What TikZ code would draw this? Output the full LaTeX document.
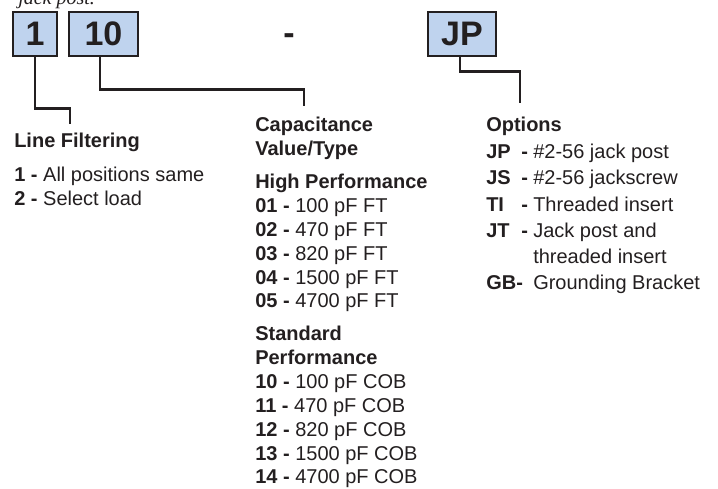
\documentclass[tikz,border=0pt]{standalone}
\usepackage{fontspec}
\setmainfont{Liberation Sans}
\newfontfamily\captfont{Liberation Serif}
\usepackage{tikz}

\begin{document}
\begin{tikzpicture}[x=0.75pt,y=-0.75pt,
  codebox/.style={draw=inkDark, fill=boxBlue, line width=1.9pt, minimum height=33pt,
    inner sep=0pt, text=inkDark, font=\fontsize{25.5}{30}\selectfont\bfseries},
  conn/.style={draw=inkDark, line width=2pt},
  head/.style={anchor=base west, inner sep=0pt, text=inkDark, font=\fontsize{15}{18}\selectfont\bfseries},
  item/.style={anchor=base west, inner sep=0pt, text=inkDark, font=\fontsize{15}{18}\selectfont}]

% Colours
\definecolor{inkDark}{HTML}{231F20}
\definecolor{boxBlue}{HTML}{BFD3EE}

% Page frame
\useasboundingbox (0,0) rectangle (718,489);
\clip (0,0) rectangle (718,489);

% Caption fragment (cut off at the top)
\node[anchor=base west, inner sep=0pt, text=inkDark, font=\captfont\itshape\fontsize{15}{18}\selectfont] (capt) at (18,5) {jack post.};

% Part number boxes
\node[codebox, minimum width=33pt] (one) at (35,34) {1};
\node[codebox, minimum width=51.75pt] (ten) at (103.5,34) {10};
\node[anchor=base, inner sep=0pt, text=inkDark, font=\fontsize{25.5}{30}\selectfont\bfseries] (sep) at (289,45) {-};
\node[codebox, minimum width=51pt] (jp) at (462,34) {JP};

% Connector ends
\coordinate (lfTop) at (70,124);
\coordinate (capTop) at (304,106);
\coordinate (optTop) at (520,103);

% Connectors
\draw[conn] (one.south) -- ++(0,51) -| (lfTop);
\draw[conn] ([xshift=-2.6pt]ten.south) -- ++(0,32) -| (capTop);
\draw[conn] ([xshift=-1.5pt]jp.south) -- ++(0,14) -| (optTop);

% Line Filtering
\node[head] (lf) at (14,147) {Line Filtering};
\node[item] (lfA) at (14,181) {\textbf{1 -} All positions same};
\node[item] (lfB) at (14,205) {\textbf{2 -} Select load};

% Capacitance Value/Type
\node[head] (cap) at (255,131) {Capacitance};
\node[head] (capB) at (255,155) {Value/Type};
\node[head] (hp) at (255,188) {High Performance};
\node[item] (hpA) at (255,212) {\textbf{01 -} 100 pF FT};
\node[item] (hpB) at (255,236) {\textbf{02 -} 470 pF FT};
\node[item] (hpC) at (255,260) {\textbf{03 -} 820 pF FT};
\node[item] (hpD) at (255,284) {\textbf{04 -} 1500 pF FT};
\node[item] (hpE) at (255,307) {\textbf{05 -} 4700 pF FT};
\node[head] (sp) at (255,340) {Standard};
\node[head] (spB) at (255,364) {Performance};
\node[item] (spA) at (255,388) {\textbf{10 -} 100 pF COB};
\node[item] (spC) at (255,412) {\textbf{11 -} 470 pF COB};
\node[item] (spD) at (255,436) {\textbf{12 -} 820 pF COB};
\node[item] (spE) at (255,460) {\textbf{13 -} 1500 pF COB};
\node[item] (spF) at (255,483) {\textbf{14 -} 4700 pF COB};

% Options
\node[head] (opt) at (486,131) {Options};
\node[head] (optJP) at (486,158) {JP};
\node[head] at (521,158) {-};
\node[item] at (533,158) {\#2-56 jack post};
\node[head] (optJS) at (486,184) {JS};
\node[head] at (521,184) {-};
\node[item] at (533,184) {\#2-56 jackscrew};
\node[head] (optTI) at (486,211) {TI};
\node[head] at (521,211) {-};
\node[item] at (533,211) {Threaded insert};
\node[head] (optJT) at (486,237) {JT};
\node[head] at (521,237) {-};
\node[item] at (533,237) {Jack post and};
\node[item] at (533,263) {threaded insert};
\node[head] (optGB) at (486,289) {GB-};
\node[item] at (533,289) {Grounding Bracket};
\end{tikzpicture}
\end{document}
